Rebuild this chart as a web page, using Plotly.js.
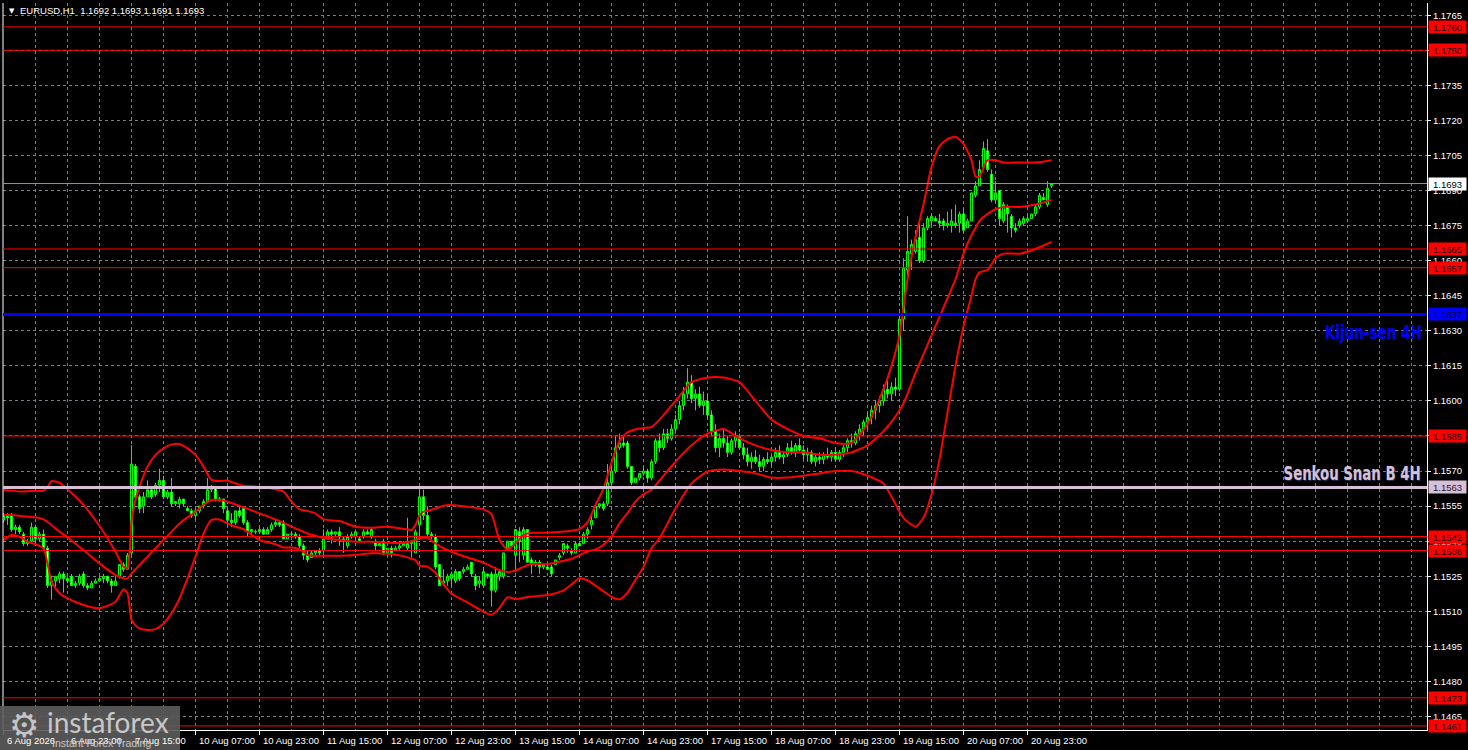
<!DOCTYPE html>
<html><head><meta charset="utf-8">
<script src="https://cdn.plot.ly/plotly-3.0.1.min.js"></script>
<style>html,body{margin:0;padding:0;background:#000;overflow:hidden}#chart{width:1468px;height:750px}</style>
</head><body><div id="chart"></div>
<script>
// ---------------- data ----------------
const symbolTitle = "EURUSD,H1";
const lastBarOHLC = ["1.1692", "1.1693", "1.1691", "1.1693"];

const open = [
1.1549,1.1551,1.1551,1.1545,1.1546,1.1543,1.1539,1.1540,1.1546,1.1541,
1.1543,1.1537,1.1521,1.1523,1.1524,1.1526,1.1524,1.1525,1.1521,1.1522,
1.1526,1.1521,1.1520,1.1522,1.1523,1.1524,1.1525,1.1523,1.1521,1.1525,
1.1530,1.1528,1.1535,1.1572,1.1559,1.1555,1.1559,1.1562,1.1560,1.1564,
1.1566,1.1559,1.1561,1.1556,1.1556,1.1558,1.1554,1.1553,1.1551,1.1553,
1.1555,1.1557,1.1562,1.1563,1.1558,1.1558,1.1553,1.1549,1.1548,1.1553,
1.1554,1.1548,1.1544,1.1544,1.1544,1.1545,1.1543,1.1545,1.1547,1.1548,
1.1548,1.1541,1.1543,1.1543,1.1542,1.1538,1.1534,1.1533,1.1535,1.1536,
1.1536,1.1541,1.1544,1.1543,1.1544,1.1541,1.1538,1.1542,1.1542,1.1541,
1.1542,1.1544,1.1542,1.1540,1.1538,1.1540,1.1535,1.1537,1.1536,1.1537,
1.1538,1.1537,1.1539,1.1535,1.1547,1.1559,1.1551,1.1543,1.1542,1.1530,
1.1522,1.1523,1.1524,1.1523,1.1527,1.1527,1.1528,1.1531,1.1525,1.1522,
1.1521,1.1526,1.1526,1.1519,1.1525,1.1525,1.1537,1.1540,1.1534,1.1544,
1.1534,1.1545,1.1532,1.1530,1.1531,1.1529,1.1529,1.1529,1.1530,1.1533,
1.1535,1.1538,1.1536,1.1535,1.1539,1.1539,1.1543,1.1547,1.1550,1.1555,
1.1556,1.1556,1.1565,1.1570,1.1580,1.1582,1.1582,1.1572,1.1565,1.1567,
1.1569,1.1570,1.1567,1.1574,1.1583,1.1580,1.1586,1.1584,1.1588,1.1592,
1.1598,1.1603,1.1608,1.1601,1.1603,1.1598,1.1600,1.1594,1.1587,1.1580,
1.1584,1.1582,1.1578,1.1583,1.1585,1.1580,1.1577,1.1574,1.1576,1.1574,
1.1572,1.1575,1.1574,1.1576,1.1578,1.1576,1.1577,1.1580,1.1578,1.1581,
1.1579,1.1577,1.1578,1.1574,1.1576,1.1575,1.1577,1.1576,1.1578,1.1575,
1.1578,1.1580,1.1583,1.1582,1.1586,1.1588,1.1591,1.1593,1.1596,1.1598,
1.1600,1.1605,1.1603,1.1606,1.1605,1.1635,1.1656,1.1663,1.1664,1.1670,
1.1660,1.1674,1.1677,1.1678,1.1677,1.1677,1.1675,1.1675,1.1676,1.1676,
1.1680,1.1674,1.1677,1.1688,1.1692,1.1700,1.1707,1.1697,1.1686,1.1690,
1.1677,1.1683,1.1679,1.1674,1.1675,1.1676,1.1677,1.1678,1.1680,1.1683,
1.1687,1.1684,1.1692];

const high = [
1.1552,1.1552,1.1552,1.1547,1.1547,1.1544,1.1541,1.1548,1.1547,1.1544,
1.1545,1.1538,1.1525,1.1525,1.1527,1.1527,1.1525,1.1526,1.1523,1.1526,
1.1527,1.1522,1.1523,1.1524,1.1525,1.1526,1.1525,1.1524,1.1525,1.1530,
1.1531,1.1535,1.1581,1.1573,1.1560,1.1561,1.1566,1.1563,1.1565,1.1571,
1.1568,1.1562,1.1567,1.1557,1.1559,1.1558,1.1555,1.1554,1.1554,1.1555,
1.1558,1.1567,1.1564,1.1563,1.1559,1.1558,1.1554,1.1552,1.1553,1.1555,
1.1555,1.1549,1.1545,1.1545,1.1546,1.1546,1.1546,1.1548,1.1549,1.1549,
1.1549,1.1543,1.1544,1.1544,1.1543,1.1539,1.1536,1.1536,1.1536,1.1537,
1.1545,1.1545,1.1545,1.1544,1.1546,1.1542,1.1543,1.1544,1.1545,1.1542,
1.1545,1.1545,1.1546,1.1541,1.1540,1.1541,1.1537,1.1538,1.1538,1.1540,
1.1540,1.1550,1.1540,1.1545,1.1562,1.1562,1.1555,1.1544,1.1543,1.1530,
1.1528,1.1526,1.1527,1.1528,1.1527,1.1529,1.1530,1.1531,1.1526,1.1525,
1.1529,1.1526,1.1527,1.1529,1.1528,1.1535,1.1540,1.1540,1.1545,1.1546,
1.1546,1.1545,1.1533,1.1532,1.1532,1.1530,1.1530,1.1530,1.1532,1.1535,
1.1539,1.1539,1.1537,1.1540,1.1540,1.1544,1.1546,1.1551,1.1556,1.1556,
1.1557,1.1573,1.1575,1.1585,1.1586,1.1585,1.1583,1.1572,1.1567,1.1569,
1.1572,1.1571,1.1575,1.1584,1.1586,1.1588,1.1588,1.1590,1.1594,1.1600,
1.1606,1.1614,1.1611,1.1605,1.1606,1.1604,1.1603,1.1596,1.1590,1.1586,
1.1588,1.1585,1.1584,1.1587,1.1586,1.1582,1.1580,1.1578,1.1579,1.1577,
1.1576,1.1578,1.1577,1.1580,1.1581,1.1578,1.1582,1.1583,1.1582,1.1584,
1.1581,1.1580,1.1579,1.1577,1.1578,1.1578,1.1580,1.1579,1.1580,1.1579,
1.1581,1.1584,1.1586,1.1587,1.1590,1.1592,1.1595,1.1598,1.1600,1.1602,
1.1607,1.1610,1.1608,1.1610,1.1638,1.1661,1.1679,1.1669,1.1673,1.1676,
1.1676,1.1679,1.1680,1.1679,1.1680,1.1678,1.1681,1.1682,1.1684,1.1681,
1.1682,1.1678,1.1689,1.1694,1.1703,1.1711,1.1712,1.1699,1.1694,1.1690,
1.1685,1.1684,1.1680,1.1676,1.1678,1.1679,1.1680,1.1680,1.1684,1.1689,
1.1689,1.1694,1.1693];

const low = [
1.1548,1.1547,1.1544,1.1543,1.1543,1.1538,1.1538,1.1539,1.1538,1.1540,
1.1536,1.1520,1.1515,1.1520,1.1522,1.1518,1.1522,1.1521,1.1520,1.1521,
1.1520,1.1519,1.1520,1.1522,1.1523,1.1522,1.1522,1.1518,1.1521,1.1524,
1.1527,1.1528,1.1534,1.1558,1.1552,1.1552,1.1559,1.1558,1.1559,1.1561,
1.1558,1.1558,1.1555,1.1555,1.1554,1.1555,1.1553,1.1550,1.1549,1.1552,
1.1554,1.1557,1.1561,1.1557,1.1557,1.1552,1.1547,1.1546,1.1547,1.1550,
1.1547,1.1542,1.1543,1.1543,1.1543,1.1543,1.1543,1.1544,1.1546,1.1546,
1.1541,1.1541,1.1542,1.1541,1.1537,1.1532,1.1531,1.1533,1.1534,1.1534,
1.1534,1.1541,1.1539,1.1542,1.1538,1.1535,1.1537,1.1541,1.1540,1.1540,
1.1541,1.1543,1.1541,1.1536,1.1538,1.1534,1.1535,1.1533,1.1536,1.1536,
1.1538,1.1536,1.1533,1.1535,1.1542,1.1549,1.1542,1.1541,1.1528,1.1521,
1.1521,1.1521,1.1521,1.1522,1.1523,1.1526,1.1528,1.1525,1.1519,1.1520,
1.1520,1.1524,1.1512,1.1518,1.1523,1.1524,1.1536,1.1537,1.1527,1.1531,
1.1532,1.1531,1.1526,1.1529,1.1526,1.1528,1.1528,1.1525,1.1530,1.1532,
1.1534,1.1535,1.1534,1.1535,1.1538,1.1539,1.1541,1.1545,1.1550,1.1554,
1.1553,1.1555,1.1564,1.1569,1.1579,1.1580,1.1571,1.1564,1.1565,1.1566,
1.1568,1.1565,1.1566,1.1573,1.1578,1.1579,1.1582,1.1583,1.1586,1.1590,
1.1596,1.1601,1.1599,1.1596,1.1597,1.1594,1.1592,1.1585,1.1578,1.1576,
1.1580,1.1576,1.1577,1.1580,1.1579,1.1575,1.1572,1.1571,1.1573,1.1570,
1.1570,1.1573,1.1572,1.1574,1.1575,1.1573,1.1576,1.1577,1.1576,1.1578,
1.1575,1.1574,1.1573,1.1572,1.1573,1.1573,1.1575,1.1574,1.1574,1.1574,
1.1576,1.1578,1.1580,1.1581,1.1583,1.1585,1.1588,1.1590,1.1592,1.1595,
1.1598,1.1601,1.1600,1.1602,1.1604,1.1630,1.1652,1.1656,1.1663,1.1659,
1.1659,1.1673,1.1675,1.1677,1.1674,1.1673,1.1674,1.1672,1.1674,1.1672,
1.1672,1.1674,1.1677,1.1687,1.1692,1.1700,1.1698,1.1685,1.1685,1.1675,
1.1676,1.1672,1.1670,1.1672,1.1674,1.1675,1.1676,1.1678,1.1679,1.1682,
1.1686,1.1683,1.1691];

const close = [
1.1551,1.1550,1.1545,1.1546,1.1544,1.1539,1.1540,1.1546,1.1541,1.1543,
1.1537,1.1521,1.1523,1.1525,1.1526,1.1524,1.1523,1.1521,1.1522,1.1525,
1.1521,1.1520,1.1522,1.1523,1.1524,1.1525,1.1523,1.1521,1.1523,1.1530,
1.1528,1.1534,1.1573,1.1559,1.1554,1.1559,1.1562,1.1559,1.1564,1.1566,
1.1559,1.1561,1.1556,1.1557,1.1558,1.1556,1.1553,1.1551,1.1553,1.1555,
1.1557,1.1562,1.1563,1.1558,1.1558,1.1554,1.1549,1.1548,1.1553,1.1551,
1.1548,1.1544,1.1545,1.1544,1.1545,1.1543,1.1545,1.1547,1.1548,1.1547,
1.1541,1.1543,1.1543,1.1542,1.1538,1.1534,1.1532,1.1535,1.1536,1.1535,
1.1541,1.1544,1.1543,1.1544,1.1542,1.1540,1.1542,1.1543,1.1544,1.1540,
1.1544,1.1543,1.1545,1.1538,1.1539,1.1535,1.1537,1.1535,1.1537,1.1538,
1.1539,1.1539,1.1540,1.1544,1.1559,1.1551,1.1543,1.1542,1.1529,1.1521,
1.1523,1.1525,1.1526,1.1527,1.1524,1.1528,1.1529,1.1526,1.1521,1.1523,
1.1527,1.1525,1.1519,1.1526,1.1527,1.1535,1.1540,1.1538,1.1545,1.1540,
1.1545,1.1531,1.1530,1.1531,1.1529,1.1530,1.1528,1.1526,1.1532,1.1534,
1.1539,1.1537,1.1535,1.1539,1.1538,1.1543,1.1545,1.1549,1.1555,1.1556,
1.1554,1.1565,1.1570,1.1580,1.1582,1.1581,1.1572,1.1565,1.1567,1.1569,
1.1570,1.1567,1.1574,1.1583,1.1580,1.1586,1.1584,1.1588,1.1592,1.1598,
1.1603,1.1608,1.1601,1.1603,1.1598,1.1600,1.1594,1.1587,1.1580,1.1584,
1.1582,1.1578,1.1583,1.1585,1.1580,1.1577,1.1574,1.1576,1.1574,1.1572,
1.1575,1.1574,1.1576,1.1578,1.1576,1.1577,1.1580,1.1578,1.1581,1.1579,
1.1577,1.1578,1.1574,1.1576,1.1575,1.1577,1.1576,1.1578,1.1575,1.1578,
1.1580,1.1583,1.1582,1.1586,1.1588,1.1591,1.1593,1.1596,1.1598,1.1600,
1.1605,1.1603,1.1606,1.1605,1.1635,1.1657,1.1664,1.1667,1.1669,1.1660,
1.1674,1.1678,1.1679,1.1677,1.1676,1.1675,1.1676,1.1677,1.1675,1.1680,
1.1673,1.1677,1.1689,1.1692,1.1699,1.1708,1.1699,1.1686,1.1689,1.1678,
1.1684,1.1680,1.1674,1.1673,1.1677,1.1678,1.1678,1.1680,1.1683,1.1688,
1.1686,1.1691,1.1693];

// bar numbers at which the band values below were read
const bandIdx = [0,2,4,6,8,10,11,12,14,16,20,24,28,30,31,32,33,34,36,38,
40,42,44,46,48,50,52,54,56,58,60,64,68,70,72,74,76,78,80,84,
88,92,96,100,102,103,104,105,106,108,110,112,116,120,122,124,126,128,130,132,
136,140,142,144,146,148,150,152,154,156,158,160,162,164,168,172,176,180,184,188,
192,196,200,204,208,212,216,220,222,224,225,226,228,230,232,234,236,238,240,242,
243,244,246,248,250,254,258,262];

const bandUpper = [
1.15619,1.15616,1.15613,1.15614,1.15615,1.15616,1.15630,1.15657,1.15650,1.15622,
1.15555,1.15465,1.15355,1.15291,1.15284,1.15483,1.15576,1.15633,1.15719,1.15769,
1.15797,1.15814,1.15816,1.15797,1.15769,1.15719,1.15662,1.15657,1.15659,1.15647,
1.15637,1.15633,1.15622,1.15612,1.15569,1.15536,1.15529,1.15519,1.15493,1.15486,
1.15462,1.15458,1.15462,1.15453,1.15448,1.15470,1.15510,1.15526,1.15530,1.15540,
1.15552,1.15555,1.15547,1.15536,1.15515,1.15405,1.15365,1.15390,1.15426,1.15436,
1.15436,1.15441,1.15445,1.15452,1.15480,1.15555,1.15625,1.15735,1.15830,1.15866,
1.15878,1.15884,1.15888,1.15920,1.16000,1.16080,1.16100,1.16100,1.16080,1.16000,
1.15920,1.15880,1.15850,1.15840,1.15820,1.15820,1.15900,1.16050,1.16150,1.16280,
1.16400,1.16520,1.16700,1.16840,1.17000,1.17090,1.17120,1.17130,1.17100,1.17030,
1.16960,1.16960,1.17030,1.17030,1.17020,1.17020,1.17020,1.17030];

const bandMiddle = [
1.15512,1.15512,1.15508,1.15505,1.15502,1.15493,1.15482,1.15469,1.15441,1.15416,
1.15362,1.15305,1.15255,1.15241,1.15241,1.15262,1.15280,1.15298,1.15334,1.15370,
1.15405,1.15440,1.15476,1.15502,1.15526,1.15555,1.15576,1.15576,1.15569,1.15557,
1.15545,1.15519,1.15493,1.15478,1.15462,1.15447,1.15433,1.15423,1.15414,1.15405,
1.15398,1.15398,1.15393,1.15393,1.15400,1.15405,1.15412,1.15416,1.15414,1.15391,
1.15370,1.15355,1.15330,1.15308,1.15292,1.15276,1.15268,1.15275,1.15290,1.15302,
1.15302,1.15316,1.15325,1.15340,1.15356,1.15365,1.15385,1.15420,1.15476,1.15520,
1.15570,1.15600,1.15620,1.15660,1.15740,1.15810,1.15860,1.15880,1.15840,1.15810,
1.15790,1.15780,1.15780,1.15770,1.15770,1.15780,1.15810,1.15870,1.15910,1.15960,
1.15990,1.16030,1.16120,1.16200,1.16280,1.16360,1.16440,1.16520,1.16630,1.16710,
1.16740,1.16770,1.16800,1.16820,1.16830,1.16830,1.16840,1.16860];

const bandLower = [
1.15405,1.15426,1.15419,1.15398,1.15387,1.15369,1.15305,1.15227,1.15177,1.15155,
1.15127,1.15113,1.15141,1.15194,1.15177,1.15063,1.15040,1.15027,1.15020,1.15024,
1.15048,1.15091,1.15155,1.15241,1.15334,1.15433,1.15491,1.15493,1.15476,1.15462,
1.15451,1.15405,1.15387,1.15373,1.15373,1.15365,1.15341,1.15337,1.15338,1.15338,
1.15341,1.15348,1.15346,1.15336,1.15325,1.15319,1.15295,1.15293,1.15291,1.15265,
1.15215,1.15175,1.15138,1.15098,1.15085,1.15115,1.15160,1.15152,1.15158,1.15163,
1.15170,1.15190,1.15215,1.15241,1.15232,1.15210,1.15185,1.15162,1.15151,1.15180,
1.15235,1.15290,1.15370,1.15412,1.15540,1.15647,1.15698,1.15707,1.15700,1.15690,
1.15672,1.15672,1.15680,1.15690,1.15700,1.15700,1.15680,1.15647,1.15590,1.15526,
1.15500,1.15483,1.15462,1.15500,1.15600,1.15750,1.15950,1.16150,1.16320,1.16450,
1.16520,1.16550,1.16560,1.16610,1.16630,1.16630,1.16650,1.16680];

const tickIdx = [0,16,32,48,64,80,96,112,128,144,160,176,192,208,224,240,256];
const tickLabels = ["6 Aug 2026","6 Aug 23:00","7 Aug 15:00","10 Aug 07:00","10 Aug 23:00",
"11 Aug 15:00","12 Aug 07:00","12 Aug 23:00","13 Aug 15:00","14 Aug 07:00","14 Aug 23:00",
"17 Aug 15:00","18 Aug 07:00","18 Aug 23:00","19 Aug 15:00","20 Aug 07:00","20 Aug 23:00"];

const redLevels = [1.1760, 1.1750, 1.1665, 1.1657, 1.1585, 1.1542, 1.1536, 1.1473, 1.1461];
const kijunLevel = 1.1637;
const senkouLevel = 1.1563;
const lastPrice = 1.1693;
const kijunText = "Kijun-sen 4H";
const senkouText = "Senkou Snan B 4H";
const brandText = "instaforex";
const brandSub = "Instant Forex Trading";

// ---------------- drawing ----------------
const FONT = "Liberation Sans, Arial, sans-serif";
const GRID = "#76808c";
const barIdx = open.map((_, i) => i);
const RED = "#ff0000", BLUE = "#0000ff", THISTLE = "#d8bfd8", PRICE_GRAY = "#8a95a0";

const traces = [
  {type: "candlestick", x: barIdx, open: open, high: high, low: low, close: close,
   increasing: {line: {color: "#00ff00", width: 1}, fillcolor: "#000000"},
   decreasing: {line: {color: "#00ff00", width: 1}, fillcolor: "#ffffff"},
   whiskerwidth: 0, hoverinfo: "skip", showlegend: false},
  {type: "scatter", mode: "lines", x: bandIdx, y: bandUpper, hoverinfo: "skip",
   line: {color: RED, width: 2, shape: "spline", smoothing: 0.6}},
  {type: "scatter", mode: "lines", x: bandIdx, y: bandMiddle, hoverinfo: "skip",
   line: {color: RED, width: 2, shape: "spline", smoothing: 0.6}},
  {type: "scatter", mode: "lines", x: bandIdx, y: bandLower, hoverinfo: "skip",
   line: {color: RED, width: 2, shape: "spline", smoothing: 0.6}}
];

const shapes = [];
shapes.push({type: "line", xref: "paper", yref: "paper", x0: 0, x1: 0, y0: 0, y1: 1,
  line: {color: "#ffffff", width: 1}, layer: "above"});
shapes.push({type: "line", xref: "paper", yref: "y", x0: 0, x1: 1, y0: lastPrice, y1: lastPrice,
  line: {color: PRICE_GRAY, width: 1}, layer: "above"});
redLevels.forEach(v => shapes.push({type: "line", xref: "paper", yref: "y", x0: 0, x1: 1, y0: v, y1: v,
  line: {color: RED, width: 1}, layer: "above"}));
shapes.push({type: "line", xref: "paper", yref: "y", x0: 0, x1: 1, y0: kijunLevel, y1: kijunLevel,
  line: {color: BLUE, width: 3}, layer: "above"});
shapes.push({type: "line", xref: "paper", yref: "y", x0: 0, x1: 1, y0: senkouLevel, y1: senkouLevel,
  line: {color: THISTLE, width: 3}, layer: "above"});
// watermark panel (bottom-left)
shapes.push({type: "rect", xref: "paper", yref: "paper", x0: -0.0021, x1: 0.1243, y0: -0.0289, y1: 0.0331,
  fillcolor: "rgba(92,92,92,0.9)", line: {width: 0}, layer: "above"});

const annotations = [];
function boxLabel(v, bg, fg) {
  annotations.push({xref: "paper", yref: "y", x: 1, y: v, xanchor: "left", yanchor: "middle", xshift: 1,
    text: v.toFixed(4), showarrow: false, bgcolor: bg, borderpad: 1, width: 35, height: 10,
    font: {family: FONT, size: 9.5, color: fg}});
}
// x-axis date labels (left aligned at their tick)
tickIdx.forEach((t, k) => annotations.push({xref: "x", yref: "paper", x: t, y: 0, xanchor: "left", yanchor: "top",
  xshift: 1, yshift: -3, text: tickLabels[k], showarrow: false,
  font: {family: FONT, size: 9.5, color: "#ffffff"}}));
redLevels.forEach(v => boxLabel(v, RED, "#1a0000"));
boxLabel(kijunLevel, BLUE, "#000033");
boxLabel(senkouLevel, THISTLE, "#202030");
boxLabel(lastPrice, "#ffffff", "#000000");

const LABEL_FONT = "Liberation Sans Narrow, DejaVu Sans Condensed, sans-serif";
annotations.push({xref: "paper", yref: "paper", x: 0.9624, y: 0.5468, xanchor: "center", yanchor: "middle",
  text: kijunText, showarrow: false,
  font: {family: LABEL_FONT, size: 19, color: BLUE, weight: 700}});
annotations.push({xref: "paper", yref: "paper", x: 0.9470, y: 0.354, xanchor: "center", yanchor: "middle",
  text: senkouText, showarrow: false,
  font: {family: LABEL_FONT, size: 19, color: THISTLE, weight: 700, shadow: "1px 1px 1px #2a3050"}});
// chart header
annotations.push({xref: "paper", yref: "paper", x: 0.0025, y: 0.9895, xanchor: "left", yanchor: "middle",
  text: "\u25BC", showarrow: false, font: {family: "DejaVu Sans", size: 7, color: "#ffffff"}});
annotations.push({xref: "paper", yref: "paper", x: 0.0105, y: 0.9895, xanchor: "left", yanchor: "middle",
  text: symbolTitle + "\u00a0\u00a0" + lastBarOHLC.join("\u00a0"), showarrow: false,
  font: {family: FONT, size: 9.5, color: "#ffffff"}});
// watermark
annotations.push({xref: "paper", yref: "paper", x: 0.0148, y: 0.0072, xanchor: "center", yanchor: "middle",
  text: "\u2699", showarrow: false, font: {family: "DejaVu Sans", size: 34, color: "#c4c4c4"}});
annotations.push({xref: "paper", yref: "paper", x: 0.0295, y: 0.0115, xanchor: "left", yanchor: "middle",
  text: brandText, showarrow: false, font: {family: "Lato, Open Sans, sans-serif", size: 28, color: "#c8c8c8"}});
annotations.push({xref: "paper", yref: "paper", x: 0.0330, y: -0.0180, xanchor: "left", yanchor: "middle",
  text: brandSub, showarrow: false, font: {family: FONT, size: 10.5, color: "#c8c8c8"}});

const layout = {
  width: 1468, height: 750,
  paper_bgcolor: "#000000", plot_bgcolor: "#000000",
  margin: {l: 3, r: 41, t: 3, b: 20, pad: 0},
  showlegend: false,
  dragmode: false,
  xaxis: {range: [-0.125, 355.875], rangeslider: {visible: false}, fixedrange: true,
    tickmode: "array", tickvals: tickIdx, showticklabels: false,
    ticks: "outside", ticklen: 4, tickcolor: "#ffffff", tickwidth: 1,
    showgrid: true, gridcolor: GRID, griddash: "3px,3px", gridwidth: 1,
    minor: {tickmode: "linear", tick0: 0, dtick: 8, showgrid: true, gridcolor: GRID, griddash: "3px,3px", gridwidth: 1, ticks: ""},
    showline: true, linecolor: "#ffffff", linewidth: 1, zeroline: false},
  yaxis: {range: [1.145923, 1.177022], side: "right", fixedrange: true,
    tickmode: "linear", tick0: 1.1465, dtick: 0.0015, tickformat: ".4f",
    tickfont: {family: FONT, size: 9.5, color: "#ffffff"},
    ticks: "outside", ticklen: 3, tickcolor: "#ffffff",
    showgrid: true, gridcolor: GRID, griddash: "3px,3px", gridwidth: 1,
    showline: true, linecolor: "#ffffff", linewidth: 1, zeroline: false},
  shapes: shapes,
  annotations: annotations
};

// squeeze the two condensed chart labels to the width they have in the chart
const squeezeWidths = {};
squeezeWidths[kijunText] = 97;
squeezeWidths[senkouText] = 137;

Plotly.newPlot("chart", traces, layout, {displayModeBar: false, staticPlot: true}).then(gd => {
  gd.querySelectorAll("text.annotation-text").forEach(t => {
    const w = squeezeWidths[t.textContent];
    if (w) {
      t.setAttribute("textLength", w);
      t.setAttribute("lengthAdjust", "spacingAndGlyphs");
    }
  });
});
</script>
</body></html>
